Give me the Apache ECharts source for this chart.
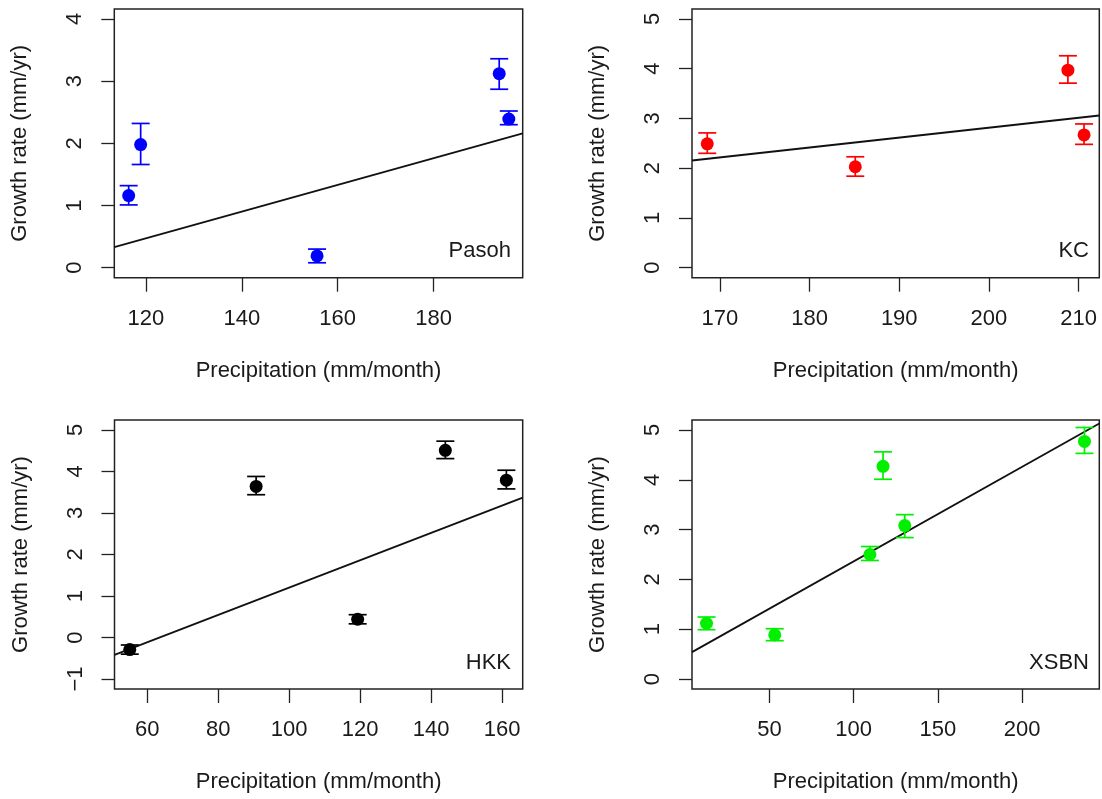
<!DOCTYPE html>
<html><head><meta charset="utf-8">
<script src="https://cdn.jsdelivr.net/npm/echarts@6/dist/echarts.min.js"></script>
<style>html,body{margin:0;padding:0;background:#fff}#c{width:1102px;height:799px}</style>
</head><body><div id="c"></div>
<script>
// ---- Data ----
const xTitle = 'Precipitation (mm/month)';
const yTitle = 'Growth rate (mm/yr)';

const pasohX  = [116.4, 118.9, 155.7, 193.7, 195.7];
const pasohY  = [1.16, 1.98, 0.19, 3.12, 2.39];
const pasohLo = [1.01, 1.66, 0.08, 2.87, 2.30];
const pasohHi = [1.32, 2.32, 0.30, 3.36, 2.52];
const pasohLine = [[113.4, 0.33], [198.6, 2.16]];
const pasohXTicks = [120, 140, 160, 180];
const pasohYTicks = [0, 1, 2, 3, 4];

const kcX  = [168.6, 185.1, 208.8, 210.6];
const kcY  = [2.49, 2.03, 3.97, 2.67];
const kcLo = [2.30, 1.84, 3.71, 2.48];
const kcHi = [2.71, 2.23, 4.26, 2.89];
const kcLine = [[166.9, 2.155], [212.3, 3.06]];
const kcXTicks = [170, 180, 190, 200, 210];
const kcYTicks = [0, 1, 2, 3, 4, 5];

const hkkX  = [55.1, 90.7, 119.3, 144.0, 161.2];
const hkkY  = [-0.29, 3.64, 0.44, 4.51, 3.79];
const hkkLo = [-0.40, 3.44, 0.33, 4.31, 3.58];
const hkkHi = [-0.18, 3.88, 0.55, 4.73, 4.03];
const hkkLine = [[50.8, -0.42], [165.8, 3.37]];
const hkkXTicks = [60, 80, 100, 120, 140, 160];
const hkkYTicks = [-1, 0, 1, 2, 3, 4, 5];

const xsbnX  = [12.6, 53.1, 109.6, 117.4, 130.3, 237.0];
const xsbnY  = [1.12, 0.885, 2.50, 4.27, 3.08, 4.77];
const xsbnLo = [0.99, 0.77, 2.38, 4.01, 2.84, 4.53];
const xsbnHi = [1.245, 1.01, 2.66, 4.56, 3.30, 5.05];
const xsbnLine = [[3.98, 0.54], [245.8, 5.13]];
const xsbnXTicks = [50, 100, 150, 200];
const xsbnYTicks = [0, 1, 2, 3, 4, 5];

const siteNames = ['Pasoh', 'KC', 'HKK', 'XSBN'];
const siteColors = ['#0000ff', '#ff0000', '#000000', '#00f000'];

// ---- Layout / styling ----
const FONT = "'Liberation Sans', Arial, sans-serif";
const TXT = '#1a1a1a';
const panels = [
  {x: pasohX, y: pasohY, lo: pasohLo, hi: pasohHi, line: pasohLine, xt: pasohXTicks, yt: pasohYTicks,
   xr: [113.4, 198.6], yr: [-0.16, 4.16], grid: {left: 114.3, top: 9, width: 408.4, height: 268.7},
   label: {x: 511, y: 251}},
  {x: kcX, y: kcY, lo: kcLo, hi: kcHi, line: kcLine, xt: kcXTicks, yt: kcYTicks,
   xr: [166.9, 212.3], yr: [-0.2, 5.2], grid: {left: 692, top: 9, width: 407.3, height: 268.7},
   label: {x: 1089, y: 251}},
  {x: hkkX, y: hkkY, lo: hkkLo, hi: hkkHi, line: hkkLine, xt: hkkXTicks, yt: hkkYTicks,
   xr: [50.8, 165.8], yr: [-1.24, 5.24], grid: {left: 114.5, top: 420, width: 408.2, height: 269},
   label: {x: 511, y: 663}},
  {x: xsbnX, y: xsbnY, lo: xsbnLo, hi: xsbnHi, line: xsbnLine, xt: xsbnXTicks, yt: xsbnYTicks,
   xr: [3.98, 245.8], yr: [-0.2, 5.2], grid: {left: 692, top: 420, width: 407.3, height: 269},
   label: {x: 1089, y: 663}}
];

const fmtY = v => (v < 0 ? '\u2212' + Math.abs(v) : String(v));

const option = {
  animation: false,
  backgroundColor: '#fff',
  grid: [], xAxis: [], yAxis: [], series: [], graphic: []
};

panels.forEach((p, i) => {
  option.grid.push(Object.assign({
    show: true, borderColor: '#222', borderWidth: 1.5, backgroundColor: 'transparent',
    containLabel: false, outerBoundsMode: 'none'
  }, p.grid));
  option.xAxis.push({
    type: 'value', gridIndex: i, min: p.xr[0], max: p.xr[1], position: 'bottom',
    axisLine: {show: false, onZero: false}, splitLine: {show: false},
    axisTick: {show: true, length: 14, lineStyle: {color: '#222', width: 1.3}, customValues: p.xt},
    axisLabel: {show: true, margin: 30, fontSize: 22, fontFamily: FONT, color: TXT, customValues: p.xt},
    name: xTitle, nameLocation: 'middle', nameGap: 82,
    nameTextStyle: {fontSize: 22, fontFamily: FONT, color: TXT}
  });
  option.yAxis.push({
    type: 'value', gridIndex: i, min: p.yr[0], max: p.yr[1], position: 'left',
    axisLine: {show: false, onZero: false}, splitLine: {show: false},
    axisTick: {show: true, length: 13, lineStyle: {color: '#222', width: 1.3}, customValues: p.yt},
    axisLabel: {show: true, rotate: 90, margin: 28, fontSize: 22, fontFamily: FONT, color: TXT,
                customValues: p.yt, formatter: fmtY},
    name: yTitle, nameLocation: 'middle', nameGap: 83,
    nameTextStyle: {fontSize: 22, fontFamily: FONT, color: TXT}
  });
  // regression line
  option.series.push({
    type: 'line', xAxisIndex: i, yAxisIndex: i, data: p.line, showSymbol: false, symbol: 'none',
    lineStyle: {color: '#111', width: 1.8}, clip: true, silent: true, z: 2
  });
  // points
  option.series.push({
    type: 'scatter', xAxisIndex: i, yAxisIndex: i, symbol: 'circle', symbolSize: 13,
    itemStyle: {color: siteColors[i], opacity: 1},
    data: p.x.map((v, k) => [v, p.y[k]]), z: 3
  });
  // error bars
  option.series.push({
    type: 'custom', xAxisIndex: i, yAxisIndex: i, z: 4,
    data: p.x.map((v, k) => [v, p.lo[k], p.hi[k]]),
    renderItem: (params, api) => {
      const x = api.value(0);
      const a = api.coord([x, api.value(1)]);
      const b = api.coord([x, api.value(2)]);
      const hw = 9;
      const st = {stroke: siteColors[i], lineWidth: 1.7};
      return {type: 'group', children: [
        {type: 'line', shape: {x1: a[0], y1: a[1], x2: b[0], y2: b[1]}, style: st},
        {type: 'line', shape: {x1: a[0] - hw, y1: a[1], x2: a[0] + hw, y2: a[1]}, style: st},
        {type: 'line', shape: {x1: b[0] - hw, y1: b[1], x2: b[0] + hw, y2: b[1]}, style: st}
      ]};
    }
  });
  option.graphic.push({
    type: 'text', x: p.label.x, y: p.label.y,
    style: {text: siteNames[i], fontSize: 22, fontFamily: FONT, fill: TXT, align: 'right', verticalAlign: 'middle'}
  });
});

const chart = echarts.init(document.getElementById('c'), null, {renderer: 'canvas'});
chart.setOption(option);
</script>
</body></html>
